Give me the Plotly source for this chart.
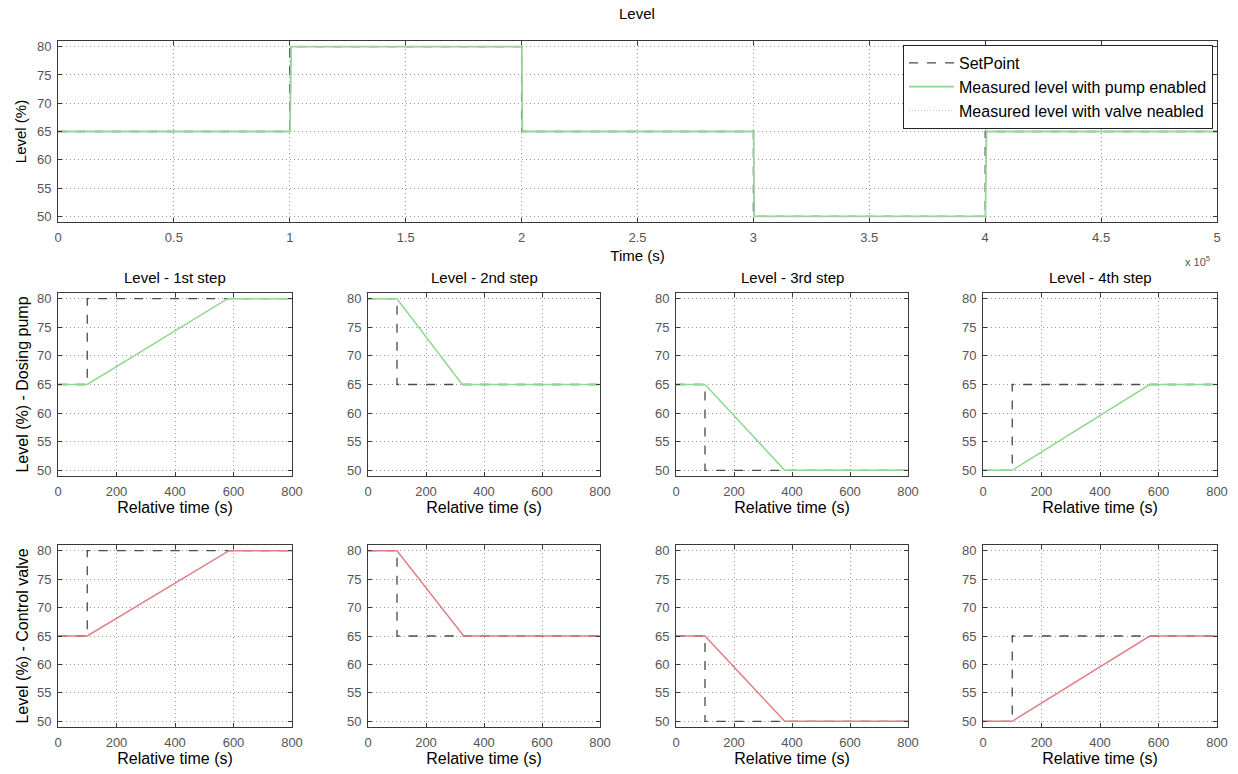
import plotly.graph_objects as go

# ---------------- data ----------------
# Overview (absolute time, s)
sp_time = [0, 1e5, 2e5, 3e5, 4e5, 5e5]
sp_level = [65, 80, 65, 50, 65, 65]
pump_time = [0, 100100, 100580, 200100, 200325, 300100, 300375, 400100, 400570, 500000]
pump_level = [65, 65, 80, 80, 65, 65, 50, 50, 65, 65]
valve_time = [0, 100100, 100585, 200100, 200330, 300100, 300375, 400100, 400570, 500000]
valve_level = [65, 65, 80, 80, 65, 65, 50, 50, 65, 65]

top_xticks = [0, 5e4, 1e5, 1.5e5, 2e5, 2.5e5, 3e5, 3.5e5, 4e5, 4.5e5, 5e5]
top_xticklabels = ["0", "0.5", "1", "1.5", "2", "2.5", "3", "3.5", "4", "4.5", "5"]
level_ticks = [50, 55, 60, 65, 70, 75, 80]
rel_ticks = [0, 200, 400, 600, 800]

step_titles = ["Level - 1st step", "Level - 2nd step", "Level - 3rd step", "Level - 4th step"]

# Setpoint in relative time for each step
step_sp_t = [0, 100, 100, 800]
step_sp_v = [[65, 65, 80, 80], [80, 80, 65, 65], [65, 65, 50, 50], [50, 50, 65, 65]]

# Dosing pump response per step
pump_step_t = [[0, 100, 580, 800], [0, 100, 325, 800], [0, 100, 375, 800], [0, 100, 570, 800]]
pump_step_v = [[65, 65, 80, 80], [80, 80, 65, 65], [65, 65, 50, 50], [50, 50, 65, 65]]

# Control valve response per step
valve_step_t = [[0, 100, 585, 800], [0, 100, 330, 800], [0, 100, 375, 800], [0, 100, 570, 800]]
valve_step_v = [[65, 65, 80, 80], [80, 80, 65, 65], [65, 65, 50, 50], [50, 50, 65, 65]]

# ---------------- styling ----------------
W, H = 1238, 774
FONT = "Liberation Sans, Arial, sans-serif"
SP_COLOR = "#4a4a4a"
PUMP_COLOR = "#8fd88f"
VALVE_COLOR = "#e07f86"
GRID = "#9a9a9a"

def px_x(p):
    return p / W

def px_y(p):
    return 1 - p / H

fig = go.Figure()

# Top plot
fig.add_trace(go.Scatter(x=sp_time, y=sp_level, mode="lines", line_shape="hv",
                         line=dict(color=SP_COLOR, dash="dash", width=1.3),
                         name="SetPoint", xaxis="x", yaxis="y"))
fig.add_trace(go.Scatter(x=pump_time, y=pump_level, mode="lines",
                         line=dict(color=PUMP_COLOR, width=1.8),
                         name="Measured level with pump enabled", xaxis="x", yaxis="y"))
fig.add_trace(go.Scatter(x=valve_time, y=valve_level, mode="lines",
                         line=dict(color="#c4c4c4", dash="1px,2px", width=1),
                         name="Measured level with valve neabled", xaxis="x", yaxis="y"))

cols = [(58, 292), (368, 600), (676, 908), (983, 1217)]
rows = [(293, 476), (545, 727)]

axis_common = dict(showline=True, linecolor="#3a3a3a", linewidth=1, mirror="ticks",
                   ticks="inside", ticklen=4, tickcolor="#3a3a3a",
                   showgrid=True, gridcolor=GRID, griddash="1px,3px", gridwidth=1,
                   zeroline=False, tickfont=dict(size=13, color="#555555", family=FONT),
                   ticklabelstandoff=3, automargin=False)

layout = dict(
    width=W, height=H,
    margin=dict(l=0, r=0, t=0, b=0),
    paper_bgcolor="white", plot_bgcolor="white",
    font=dict(family=FONT, color="black"),
    showlegend=True,
    legend=dict(x=px_x(1213), y=px_y(45), xanchor="right", yanchor="top",
                bgcolor="white", bordercolor="#222222", borderwidth=1,
                font=dict(size=16, family=FONT), tracegroupgap=0,
                itemwidth=45),
)

layout["xaxis"] = dict(axis_common, domain=[px_x(58), px_x(1217)], range=[0, 5e5],
                       tickvals=top_xticks, ticktext=top_xticklabels, anchor="y",
                       title=dict(text="Time (s)", font=dict(size=15, family=FONT), standoff=6))
layout["yaxis"] = dict(axis_common, domain=[px_y(222), px_y(41)], range=[49, 81],
                       tickvals=level_ticks, anchor="x",
                       title=dict(text="Level (%)", font=dict(size=15, family=FONT), standoff=6))

annotations = [
    dict(text="Level", x=px_x(637), y=px_y(14), xref="paper", yref="paper",
         showarrow=False, font=dict(size=15, family=FONT), xanchor="center", yanchor="middle"),
    dict(text="x 10<sup>5</sup>", x=px_x(1197), y=px_y(261), xref="paper", yref="paper",
         showarrow=False, font=dict(size=11, color="#555555", family=FONT),
         xanchor="center", yanchor="middle"),
]

row_labels = ["Level (%) - Dosing pump", "Level (%) - Control valve"]
row_t = [pump_step_t, valve_step_t]
row_v = [pump_step_v, valve_step_v]
row_color = [PUMP_COLOR, VALVE_COLOR]

idx = 2
for r, (ytop, ybot) in enumerate(rows):
    for c, (xl, xr) in enumerate(cols):
        xa = f"x{idx}"
        ya = f"y{idx}"
        fig.add_trace(go.Scatter(x=step_sp_t, y=step_sp_v[c], mode="lines",
                                 line=dict(color=SP_COLOR, dash="dash", width=1.3),
                                 showlegend=False, xaxis=xa, yaxis=ya))
        fig.add_trace(go.Scatter(x=row_t[r][c], y=row_v[r][c], mode="lines",
                                 line=dict(color=row_color[r], width=1.5),
                                 showlegend=False, xaxis=xa, yaxis=ya))
        layout[f"xaxis{idx}"] = dict(axis_common, domain=[px_x(xl), px_x(xr)], range=[0, 800],
                                     tickvals=rel_ticks, anchor=ya,
                                     title=dict(text="Relative time (s)",
                                                font=dict(size=16, family=FONT), standoff=2))
        ydict = dict(axis_common, domain=[px_y(ybot), px_y(ytop)], range=[49, 81],
                     tickvals=level_ticks, anchor=xa)
        if c == 0:
            ydict["title"] = dict(text=row_labels[r], font=dict(size=16, family=FONT), standoff=4)
        layout[f"yaxis{idx}"] = ydict
        if r == 0:
            annotations.append(dict(text=step_titles[c], x=px_x((xl + xr) / 2), y=px_y(277),
                                    xref="paper", yref="paper", showarrow=False,
                                    font=dict(size=15, family=FONT),
                                    xanchor="center", yanchor="middle"))
        idx += 1

layout["annotations"] = annotations
fig.update_layout(**layout)
fig.write_html("out.html")
